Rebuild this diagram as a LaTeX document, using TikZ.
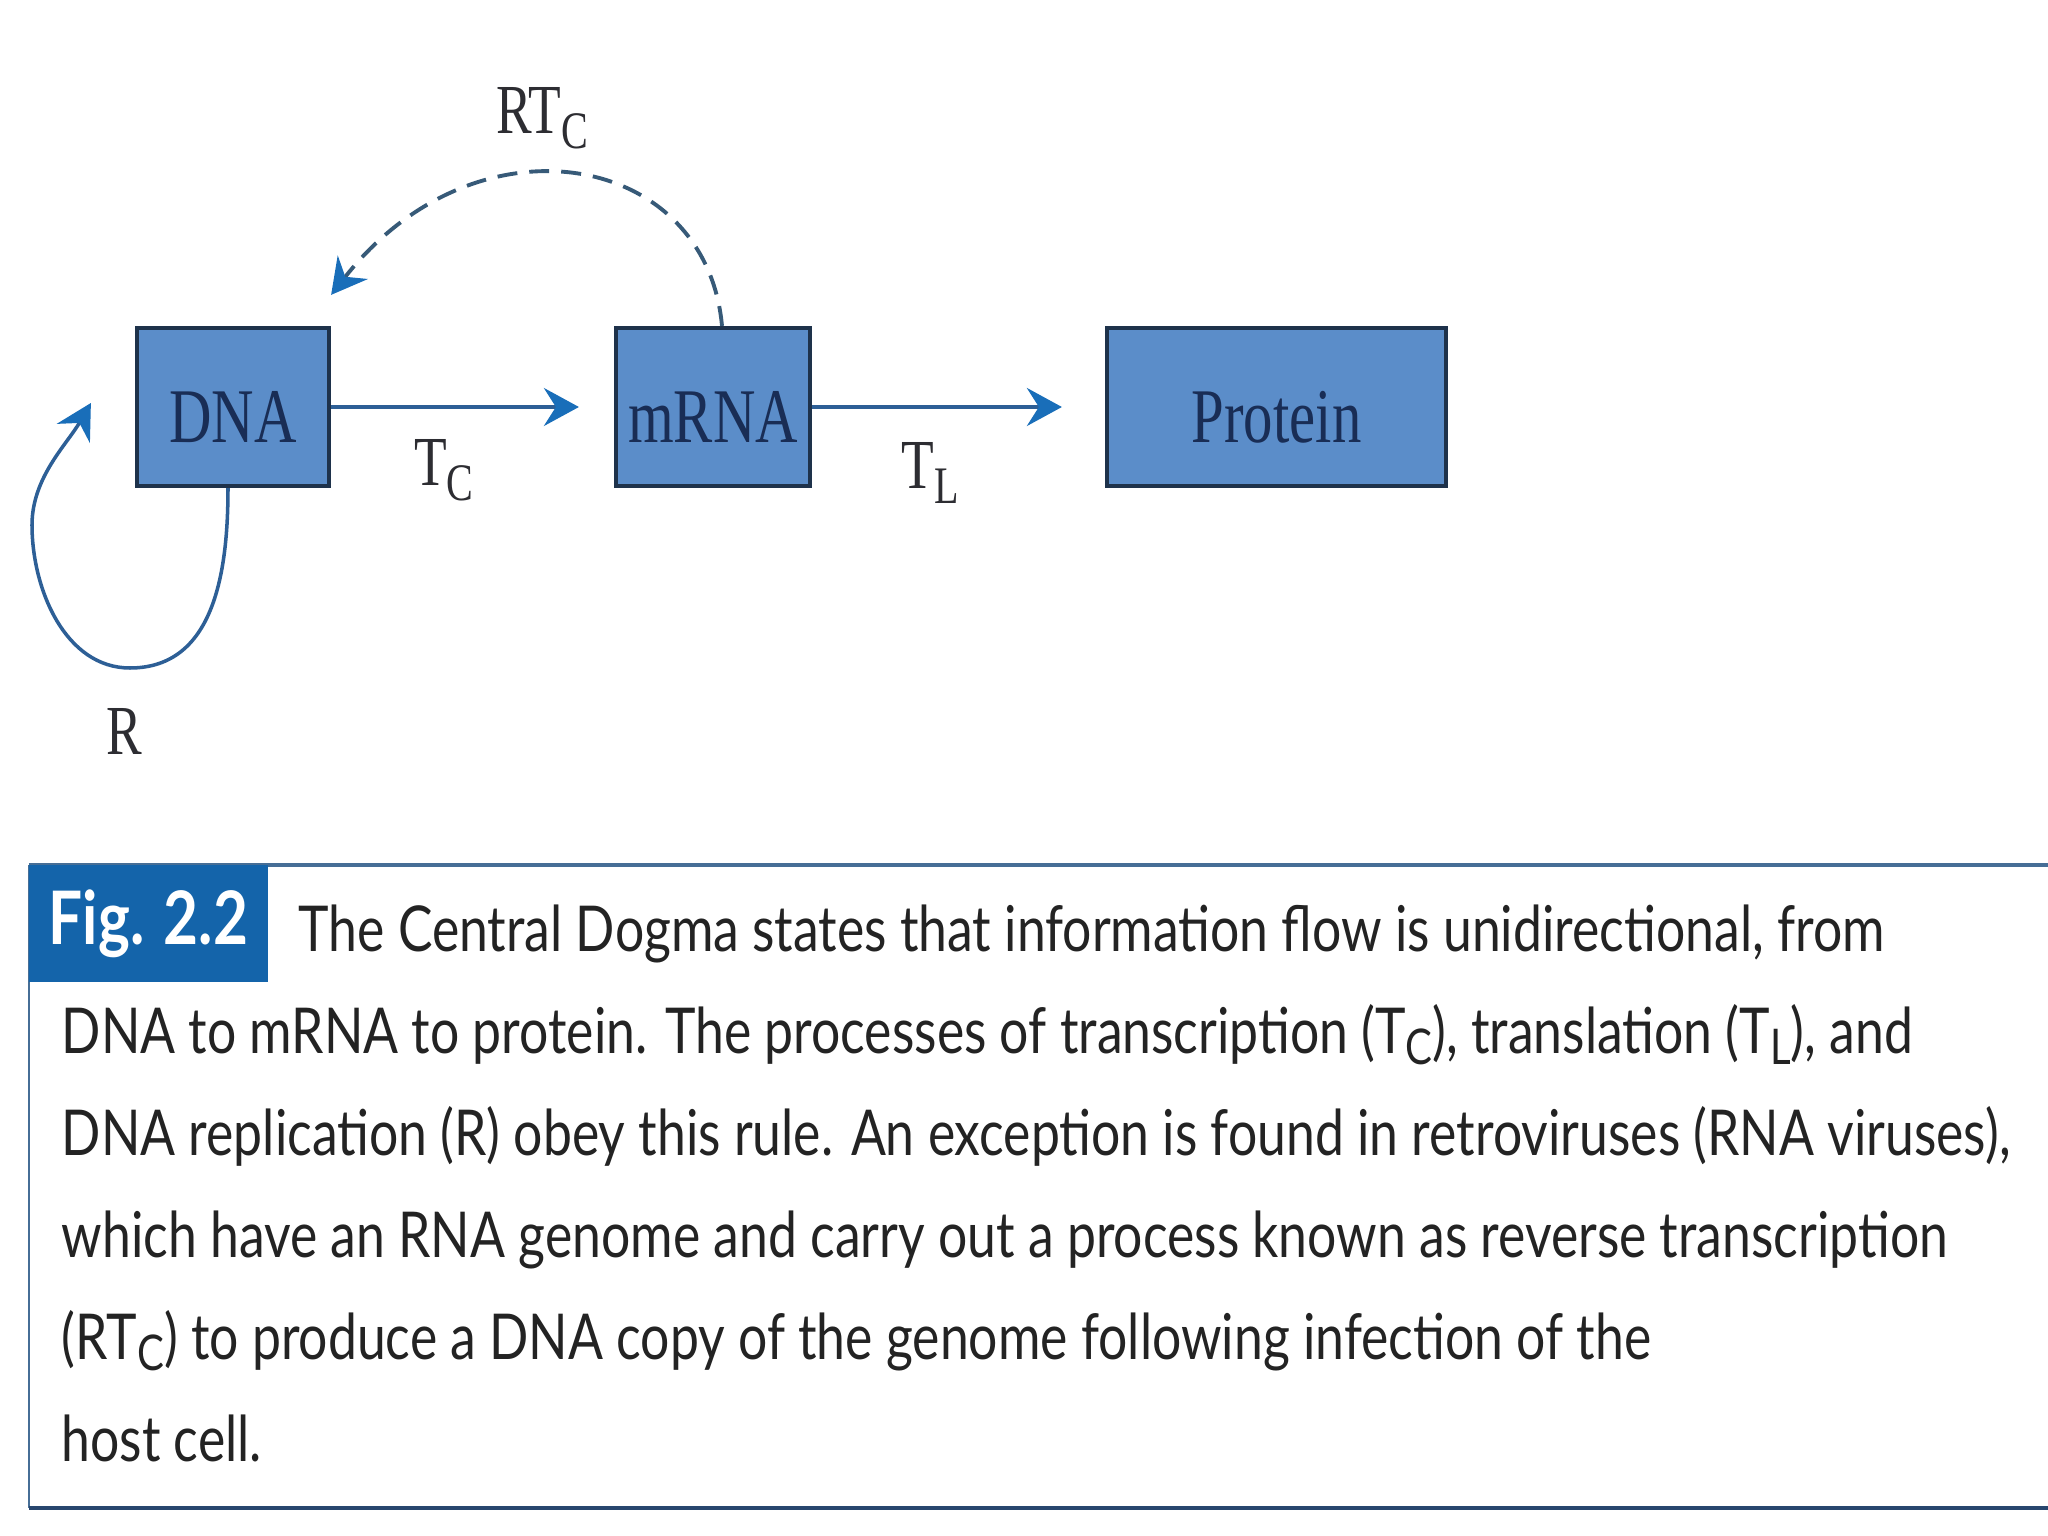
\documentclass[tikz,border=0pt]{standalone}
\usepackage{fontspec}
\setmainfont{Liberation Serif}[FakeStretch=0.76]
\newfontfamily\capfont{Lato}[FakeStretch=0.817]
\usetikzlibrary{arrows.meta}

\definecolor{boxfill}{RGB}{91,141,201}
\definecolor{boxline}{RGB}{30,50,75}
\definecolor{boxtext}{RGB}{25,45,85}
\definecolor{flowblue}{RGB}{45,95,150}
\definecolor{tipblue}{RGB}{25,110,185}
\definecolor{dashgray}{RGB}{55,90,120}
\definecolor{labelgray}{RGB}{45,45,50}
\definecolor{figblue}{RGB}{20,100,170}
\definecolor{rulelight}{RGB}{70,110,150}
\definecolor{ruledark}{RGB}{40,70,110}
\definecolor{captext}{RGB}{35,35,35}

\newcommand{\lowsub}[1]{\raisebox{-0.45ex}{\fontsize{15}{15}\selectfont #1}}
\newcommand{\capsub}[1]{\raisebox{-0.35ex}{\fontsize{14}{14}\selectfont #1}}

\begin{document}
\begin{tikzpicture}[>={Stealth[length=3.5mm,width=3.8mm,inset=1.2mm,color=tipblue]},
    block/.style={draw=boxline, line width=1.2pt, fill=boxfill, text=boxtext,
      font=\fontsize{22}{22}\selectfont, minimum height=1.58cm, inner sep=0pt,
      text height=20pt, text depth=0pt},
    flow/.style={->, line width=1pt, draw=flowblue},
    lbl/.style={font=\fontsize{20}{20}\selectfont, text=labelgray},
    figtag/.style={fill=figblue, text=white, font=\capfont\bfseries\fontsize{21}{21}\selectfont,
      minimum width=2.39cm, minimum height=1.17cm, inner sep=0pt},
    captext/.style={anchor=base west, inner sep=0pt, text=captext,
      font=\capfont\fontsize{18}{18}\selectfont}]
  \useasboundingbox[fill=white] (0,0) rectangle (20.48,-15.36);

  \node[block, minimum width=1.92cm] (dna) at (2.33,-4.07) {DNA};
  \node[block, minimum width=1.94cm] (mrna) at (7.13,-4.07) {mRNA};
  \node[block, minimum width=3.39cm] (protein) at (12.765,-4.07) {Protein};

  \draw[flow, shorten >=3.5mm] (dna) -- (mrna);
  \draw[flow, shorten >=4.3mm] (mrna) -- (protein);
  \node[lbl] (tc) at (4.44,-4.70) {T\lowsub{C}};
  \node[lbl] (tl) at (9.30,-4.73) {T\lowsub{L}};

  % reverse transcription
  \draw[flow, draw=dashgray, line width=1.1pt, dash pattern=on 2mm off 1.2mm]
    ([xshift=0.9mm]mrna.north) .. controls +(-0.16,1.75) and +(1.45,1.85) .. ([yshift=3.1mm]dna.north east);
  \node[lbl] (rtc) at (5.42,-1.18) {RT\lowsub{C}};

  % replication loop
  \coordinate (rbot) at (1.30,-6.68);
  \coordinate (rleft) at (0.32,-5.25);
  \draw[flow] ([xshift=-0.5mm]dna.south) to[out=-90, in=0, looseness=1.05] (rbot)
    to[out=180, in=-90, looseness=0.95] (rleft)
    to[out=90, in=-120, looseness=0.9] ([xshift=-4.4mm,yshift=0.4mm]dna.west);
  \node[lbl] (r) at (1.24,-7.31) {R};

  % caption
  \draw[line width=1pt, rulelight] (0.29,-8.65) -- (20.48,-8.65);
  \draw[line width=0.6pt, rulelight] (0.29,-8.65) -- (0.29,-15.08);
  \draw[line width=1.2pt, ruledark] (0.29,-15.08) -- (20.48,-15.08);
  \node[figtag] (fig) at (1.485,-9.235) {Fig. 2.2};

  \node[captext] (cap1) at (2.98,-9.51) {The Central Dogma states that information flow is unidirectional, from};
  \node[captext] (cap2) at (0.61,-10.53) {DNA to mRNA to protein. The processes of transcription (T\capsub{C}), translation (T\capsub{L}), and};
  \node[captext] (cap3) at (0.61,-11.55) {DNA replication (R) obey this rule. An exception is found in retroviruses (RNA viruses),};
  \node[captext] (cap4) at (0.61,-12.57) {which have an RNA genome and carry out a process known as reverse transcription};
  \node[captext] (cap5) at (0.61,-13.59) {(RT\capsub{C}) to produce a DNA copy of the genome following infection of the};
  \node[captext] (cap6) at (0.61,-14.61) {host cell.};
\end{tikzpicture}
\end{document}
